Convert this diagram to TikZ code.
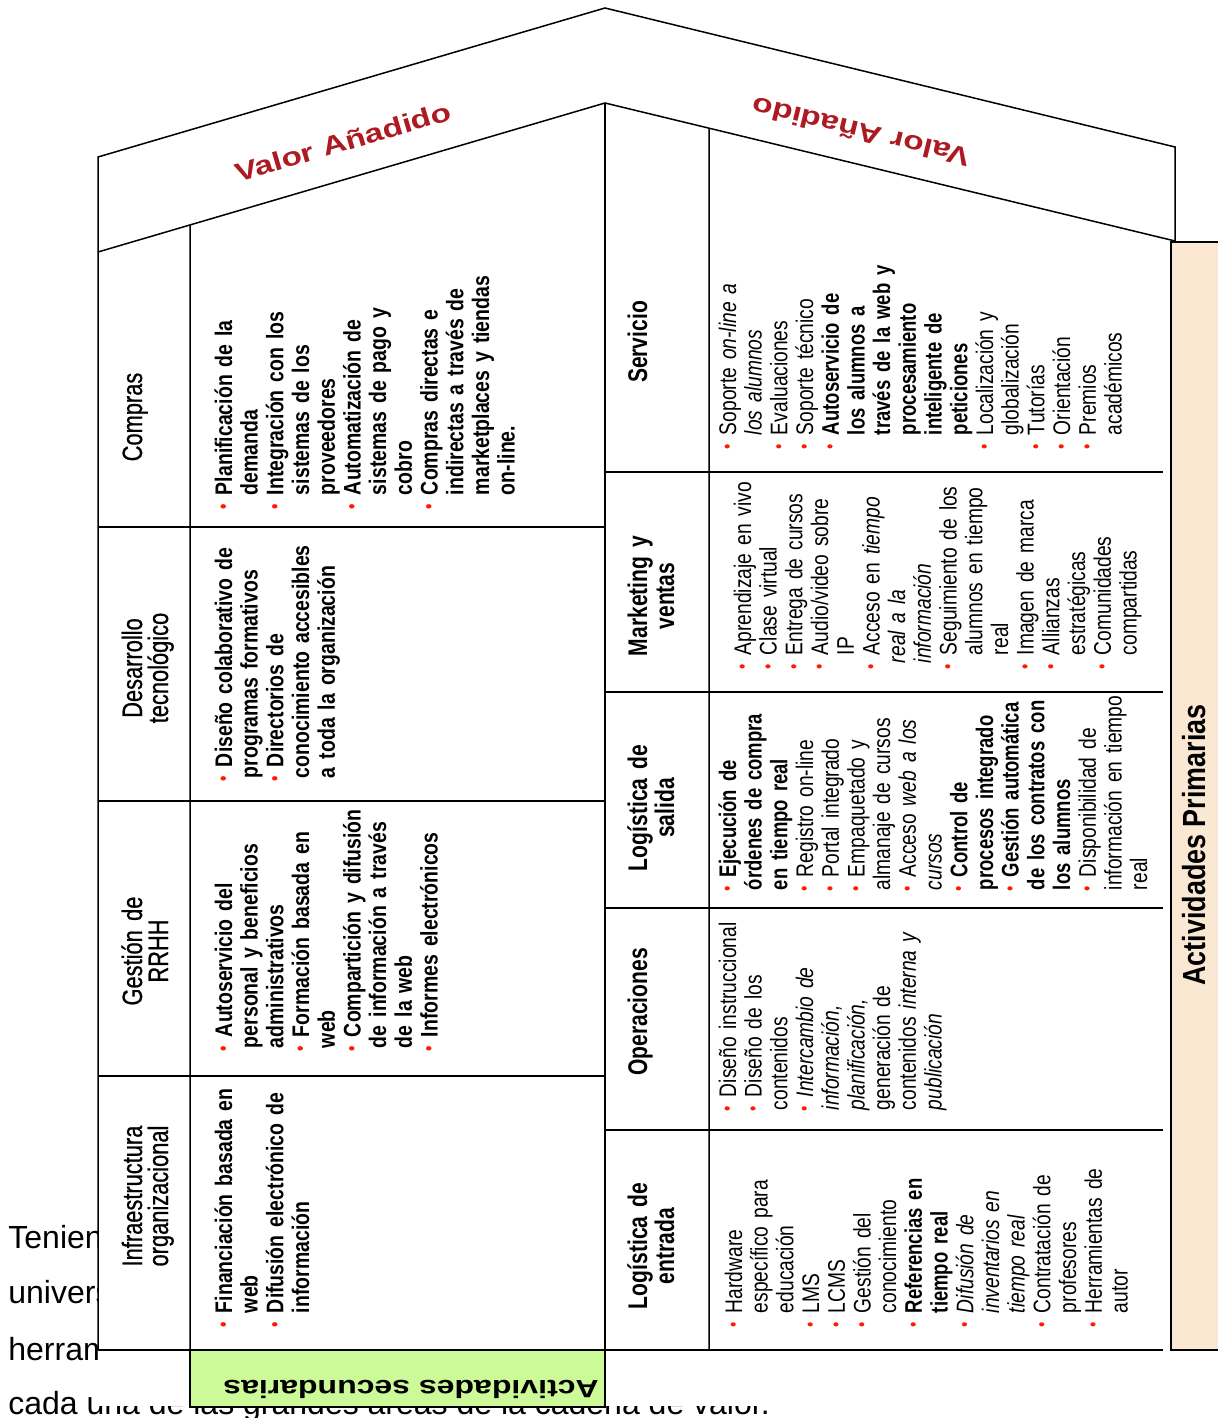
\documentclass[tikz,border=0pt]{standalone}
\usepackage{fontspec}
\setmainfont{Liberation Sans}
\newfontfamily\llistfont[FakeStretch=0.81]{Liberation Sans}
\newfontfamily\rlistfont[FakeStretch=0.80, BoldFeatures={FakeStretch=0.77}]{Liberation Sans}
\newfontfamily\labelfont[FakeStretch=0.78]{Liberation Sans}
\newfontfamily\seclabelfont[FakeStretch=0.78, FakeBold=0.7]{Liberation Sans}
\newfontfamily\widefont[FakeStretch=1.28]{Liberation Sans}
\newfontfamily\primfont[FakeStretch=0.84]{Liberation Sans}
\usetikzlibrary{calc}

\definecolor{valuered}{HTML}{AD1A22}
\definecolor{bulletred}{HTML}{FF1A00}
\definecolor{secgreen}{HTML}{CCFA99}
\definecolor{primbeige}{HTML}{FAE8D2}

% one bulleted entry; the optional argument is the indent of its continuation lines
\newcommand{\bitem}[2][8pt]{\hangindent=#1\hangafter=1\noindent
  \makebox[8pt][l]{\hspace*{1pt}\raisebox{1.2pt}{\textcolor{bulletred}{\fontsize{9.5pt}{9.5pt}\selectfont\textbullet}}}#2\par}

\tikzset{
  frame/.style={draw=black, line width=0.75pt},
  bgtext/.style={anchor=base west, inner sep=0pt, font=\fontsize{16pt}{18pt}\selectfont},
  listbase/.style={rotate=90, anchor=base west, inner sep=0pt, outer sep=0pt,
    text width=130pt, align=left},
  boldlist/.style={listbase, font={\llistfont\bfseries\fontsize{12pt}{12.85pt}\selectfont}},
  plainlist/.style={listbase, font={\rlistfont\fontsize{12pt}{12.85pt}\selectfont}},
  seclabel/.style={rotate=90, anchor=base, inner sep=0pt, text width=100pt, align=center,
    font={\seclabelfont\fontsize{14pt}{13pt}\selectfont}},
  primlabel/.style={rotate=90, anchor=base, inner sep=0pt, text width=100pt, align=center,
    font={\labelfont\bfseries\fontsize{13.5pt}{13.5pt}\selectfont}},
  valuetext/.style={inner sep=0pt, text=valuered, font={\widefont\bfseries\fontsize{13pt}{13pt}\selectfont}},
}

\begin{document}
\begin{tikzpicture}[x=0.5pt, y=-0.5pt]
\useasboundingbox (0,0) rectangle (1217,1418);

% running text of the page, partly hidden by the figure
\node[bgtext] (run1) at (8,1248) {Tenien};
\node[bgtext] (run2) at (8,1303) {univers};
\node[bgtext] (run3) at (8,1360) {herram};
\node[bgtext] (run4) at (8,1414) {cada una de las grandes áreas de la cadena de valor.};
\fill[white] (98,0) rectangle (1217,1406);

% outline points of the house
\coordinate (oL) at (98,157);
\coordinate (oA) at (605,8);
\coordinate (oR) at (1175,147);
\coordinate (iL) at (98,252);
\coordinate (iA) at (605,103);
\coordinate (iR) at (1175,241);
\coordinate (bL) at (98,1350);
\coordinate (bM) at (605,1350);
\coordinate (bR) at (1163,1350);
\coordinate (cL) at ($(iL)!{92/507}!(iA)$);
\coordinate (cR) at ($(iA)!{104/570}!(iR)$);

% coloured bands
\draw[frame, fill=secgreen] (190,1350) rectangle (605,1407);
\draw[frame, fill=primbeige] (1171,242) rectangle (1235,1350);

% roof and walls
\draw[frame] (bL) -- (oL) -- (oA) -- (oR) -- (iR);
\draw[frame] (iL) -- (iA) -- (iR);
\draw[frame] (iA) -- (bM);
\draw[frame] (cL) -- (190,1350);
\draw[frame] (cR) -- (709,1350);
\draw[frame] (bL) -- (bR);

% rows of the support activities
\foreach \yy in {527,801,1076} \draw[frame] (98,\yy) -- (605,\yy);
% rows of the primary activities
\foreach \yy in {472,692,908,1130} \draw[frame] (605,\yy) -- (1163,\yy);

% roof labels
\node[valuetext, rotate=16.4] (valL) at (343,142) {Valor Añadido};
\node[valuetext, rotate=166.3] (valR) at (861,132) {Valor Añadido};

% band labels
\node[rotate=180, anchor=base, inner sep=0pt, font={\widefont\bfseries\fontsize{12.5pt}{12.5pt}\selectfont}]
  (secband) at (411,1380) {Actividades secundarias};
\node[rotate=90, anchor=base, inner sep=0pt, font={\primfont\bfseries\fontsize{16pt}{16pt}\selectfont}]
  (primband) at (1205,845) {Actividades Primarias};

% support activity names
\node[seclabel] (compras) at (142,417) {Compras};
\node[seclabel] (desarrollo) at (142,668) {Desarrollo\\tecnológico};
\node[seclabel] (rrhh) at (142,951) {Gestión de\\RRHH};
\node[seclabel] (infra) at (142,1196) {Infraestructura\\organizacional};

% support activity contents
\node[boldlist] (comprasL) at (232,511) {%
\bitem{Planificación de la\newline demanda}
\bitem{Integración con los\newline sistemas de los\newline proveedores}
\bitem{Automatización de\newline sistemas de pago y\newline cobro}
\bitem{Compras directas e\newline indirectas a través de\newline marketplaces y tiendas\newline on-line.}};

\node[boldlist] (desarrolloL) at (232,783) {%
\bitem[2.5pt]{Diseño colaborativo de\newline programas formativos}
\bitem[2.5pt]{Directorios de\newline conocimiento accesibles\newline a toda la organización}};

\node[boldlist] (rrhhL) at (232,1053) {%
\bitem[2.5pt]{Autoservicio del\newline personal y beneficios\newline administrativos}
\bitem[2.5pt]{Formación basada en\newline web}
\bitem[2.5pt]{Compartición y difusión\newline de información a través\newline de la web}
\bitem[2.5pt]{Informes electrónicos}};

\node[boldlist] (infraL) at (232,1329) {%
\bitem{Financiación basada en\newline web}
\bitem{Difusión electrónico de\newline información}};

% primary activity names
\node[primlabel] (servicio) at (647,342) {Servicio};
\node[primlabel] (marketing) at (647,596) {Marketing y\\ventas};
\node[primlabel] (salida) at (647,808) {Logística de\\salida};
\node[primlabel] (operaciones) at (647,1012) {Operaciones};
\node[primlabel] (entrada) at (647,1246) {Logística de\\entrada};

% primary activity contents
\node[plainlist] (servicioL) at (736,451) {%
\bitem{Soporte \textit{on-line a}\newline \textit{los alumnos}}
\bitem{Evaluaciones}
\bitem{Soporte técnico}
\bitem{\textbf{Autoservicio de\newline los alumnos a\newline través de la web y\newline procesamiento\newline inteligente de\newline peticiones}}
\bitem{Localización y\newline globalización}
\bitem{Tutorías}
\bitem{Orientación}
\bitem{Premios\newline académicos}};

\node[plainlist] (marketingL) at (751,671) {%
\bitem{Aprendizaje en vivo}
\bitem{Clase virtual}
\bitem{Entrega de cursos}
\bitem{Audio/video sobre\newline IP}
\bitem[4pt]{Acceso en \textit{tiempo\newline real a la\newline información}}
\bitem{Seguimiento de los\newline alumnos en tiempo\newline real}
\bitem{Imagen de marca}
\bitem{Allianzas\newline estratégicas}
\bitem{Comunidades\newline compartidas}};

\node[plainlist] (salidaL) at (736,893) {%
\bitem[1.5pt]{\textbf{Ejecución de\newline órdenes de compra\newline en tiempo real}}
\bitem[1.5pt]{Registro on-line}
\bitem[1.5pt]{Portal integrado}
\bitem[1.5pt]{Empaquetado y\newline almanaje de cursos}
\bitem[1.5pt]{Acceso \textit{web a los\newline cursos}}
\bitem[1.5pt]{\textbf{Control de\newline procesos integrado}}
\bitem[1.5pt]{\textbf{Gestión automática\newline de los contratos con\newline los alumnos}}
\bitem[1.5pt]{Disponibilidad de\newline información en tiempo\newline real}};

\node[plainlist] (operacionesL) at (736,1113) {%
\bitem[1.5pt]{Diseño instruccional}
\bitem[1.5pt]{Diseño de los\newline contenidos}
\bitem[1.5pt]{\textit{Intercambio de\newline información,\newline planificación,}\newline generación de\newline contenidos \textit{interna y}\newline \textit{publicación}}};

\node[plainlist] (entradaL) at (742,1329) {%
\bitem{Hardware\newline específico para\newline educación}
\bitem{LMS}
\bitem{LCMS}
\bitem{Gestión del\newline conocimiento}
\bitem{\textbf{Referencias en\newline tiempo real}}
\bitem{\textit{Difusión de\newline inventarios en\newline tiempo real}}
\bitem{Contratación de\newline profesores}
\bitem{Herramientas de\newline autor}};

\end{tikzpicture}
\end{document}
